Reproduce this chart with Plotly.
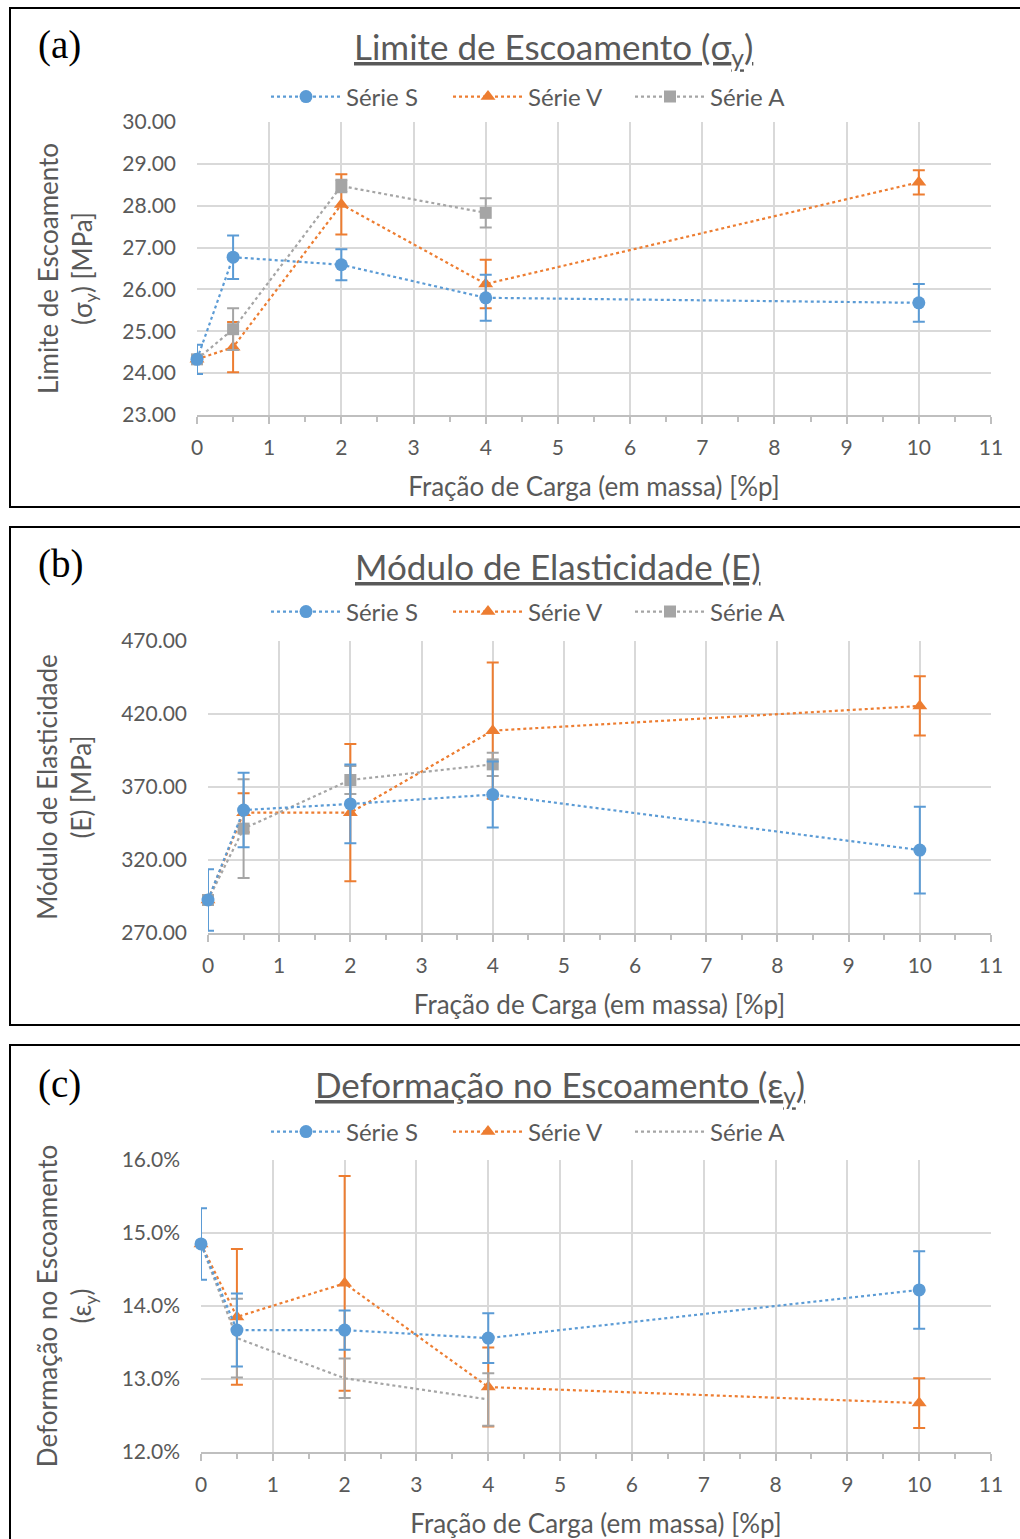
import plotly.graph_objects as go

# ---------------- data ----------------
x_vals = [0, 0.5, 2, 4, 10]
x_a = [0, 0.5, 2, 4]

# (a) Limite de Escoamento [MPa]
sy_S = [24.33, 26.77, 26.59, 25.80, 25.68]
sy_S_err = [0.35, 0.52, 0.37, 0.55, 0.45]
sy_V = [24.33, 24.62, 28.03, 26.13, 28.56]
sy_V_err = [0.0, 0.60, 0.72, 0.58, 0.29]
sy_A = [24.33, 25.05, 28.47, 27.83]
sy_A_err = [0.0, 0.50, 0.15, 0.35]

# (b) Modulo de Elasticidade [MPa]
E_S = [292.6, 354.2, 358.4, 364.8, 326.8]
E_S_err = [21.0, 25.5, 27.0, 22.6, 29.7]
E_V = [292.6, 352.4, 352.4, 408.6, 425.5]
E_V_err = [0.0, 13.4, 47.0, 46.7, 20.3]
E_A = [292.6, 341.5, 374.8, 385.5]
E_A_err = [0.0, 33.8, 9.6, 8.0]

# (c) Deformacao no Escoamento [%]
ey_S = [14.85, 13.67, 13.67, 13.56, 14.22]
ey_S_err = [0.49, 0.50, 0.27, 0.34, 0.53]
ey_V = [14.85, 13.85, 14.31, 12.89, 12.67]
ey_V_err = [0.0, 0.93, 1.47, 0.54, 0.34]
ey_A = [14.85, 13.56, 13.01, 12.72]
ey_A_err = [0.0, 0.54, 0.27, 0.36]

series_names = ["Série S", "Série V", "Série A"]
x_title = "Fração de Carga (em massa) [%p]"
titles = ["<u>Limite de Escoamento (σ<sub>y</sub>)</u>",
          "<u>Módulo de Elasticidade (E)</u>",
          "<u>Deformação no Escoamento (ε<sub>y</sub>)</u>"]
y_titles = ["Limite de Escoamento<br>(σ<sub>y</sub>) [MPa]",
            "Módulo de Elasticidade<br>(E) [MPa]",
            "Deformação no Escoamento<br>(ε<sub>y</sub>)"]
panel_labels = ["(a)", "(b)", "(c)"]

# ---------------- style ----------------
W, H = 1020, 1539
BLUE, ORANGE, GREY = "#5B9BD5", "#ED7D31", "#A5A5A5"
TXT = "#595959"
GRID = "#D9D9D9"
FONT = "Lato"

def px_x(p):
    return p / W

def px_y(p):
    return 1 - p / H

fig = go.Figure()

panels = [
    dict(data=[(sy_S, sy_S_err, x_vals), (sy_V, sy_V_err, x_vals), (sy_A, sy_A_err, x_a)],
         xdom=(197, 991), ydom=(122, 415), yr=(23, 30), dt=1, fmt=".2f", suffix="",
         title_y=48, title_x=553, leg_y=97, lab_y=45, a_markers=True),
    dict(data=[(E_S, E_S_err, x_vals), (E_V, E_V_err, x_vals), (E_A, E_A_err, x_a)],
         xdom=(208, 991), ydom=(641, 933), yr=(270, 470), dt=50, fmt=".2f", suffix="",
         title_y=566, title_x=558, leg_y=612, lab_y=564, a_markers=True),
    dict(data=[(ey_S, ey_S_err, x_vals), (ey_V, ey_V_err, x_vals), (ey_A, ey_A_err, x_a)],
         xdom=(201, 991), ydom=(1160, 1452), yr=(12, 16), dt=1, fmt=".1f", suffix="%",
         title_y=1086, title_x=560, leg_y=1132, lab_y=1084, a_markers=False),
]

colors = [BLUE, ORANGE, GREY]
symbols = ["circle", "triangle-up", "square"]
msizes = [13, 13, 12]

annotations = []
shapes = []
for i, p in enumerate(panels):
    n = "" if i == 0 else str(i + 1)
    xa, ya = "x" + n, "y" + n
    leg = "legend" + n
    # draw order V, A, S so S is on top; legend order S, V, A
    for k in [1, 2, 0]:
        yv, ye, xv = p["data"][k]
        show_marker = not (k == 2 and not p["a_markers"])
        fig.add_trace(go.Scatter(
            x=xv, y=yv, name=series_names[k], xaxis=xa, yaxis=ya, legend=leg,
            legendrank=k + 1,
            mode="lines+markers" if show_marker else "lines",
            line=dict(color=colors[k], width=2.2, dash="dot"),
            marker=dict(symbol=symbols[k], size=msizes[k], color=colors[k]),
            error_y=dict(type="data", array=ye, visible=True, color=colors[k],
                         thickness=2, width=6),
            cliponaxis=False,
        ))
    fig.layout["xaxis" + n] = dict(
        domain=[px_x(p["xdom"][0]), px_x(p["xdom"][1])], anchor=ya, automargin=False,
        range=[0, 11], dtick=1, tick0=0, showgrid=True, gridcolor=GRID, gridwidth=1.5,
        zeroline=False, showline=True, linecolor="#BFBFBF", linewidth=1.5,
        ticks="outside", ticklen=7, tickcolor="#BFBFBF", tickwidth=1.5,
        minor=dict(dtick=0.5, ticks="outside", ticklen=5, tickcolor="#BFBFBF", showgrid=False),
        ticklabelstandoff=6,
        tickfont=dict(family=FONT, size=21, color=TXT),
        title=dict(text=x_title, font=dict(family=FONT, size=26, color=TXT), standoff=20),
    )
    fig.layout["yaxis" + n] = dict(
        domain=[px_y(p["ydom"][1]), px_y(p["ydom"][0])], anchor=xa, automargin=False,
        range=list(p["yr"]), dtick=p["dt"], tick0=p["yr"][0],
        tickformat=p["fmt"], ticksuffix=p["suffix"],
        showgrid=True, gridcolor=GRID, gridwidth=1.5, zeroline=False, showline=False,
        ticklabelstandoff=20,
        tickfont=dict(family=FONT, size=21, color=TXT),
        title=dict(text=y_titles[i], font=dict(family=FONT, size=26, color=TXT), standoff=22),
    )
    fig.layout[leg] = dict(
        orientation="h", x=px_x(266), xanchor="left", y=px_y(p["leg_y"]), yanchor="middle",
        font=dict(family=FONT, size=24, color=TXT), bgcolor="rgba(0,0,0,0)",
        itemwidth=70, entrywidth=97, entrywidthmode="pixels", traceorder="normal",
    )
    annotations.append(dict(
        text=titles[i], x=px_x(p["title_x"]), y=px_y(p["title_y"]), xref="paper", yref="paper",
        xanchor="center", yanchor="middle", showarrow=False,
        font=dict(family=FONT, size=35, color=TXT)))
    annotations.append(dict(
        text=panel_labels[i], x=px_x(36), y=px_y(p["lab_y"]), xref="paper", yref="paper",
        xanchor="left", yanchor="middle", showarrow=False,
        font=dict(family="Liberation Serif", size=39, color="black")))

# panel borders
for top, bot in [(8, 507), (527, 1025), (1045, 1545)]:
    shapes.append(dict(type="rect", xref="paper", yref="paper",
                       x0=px_x(10), x1=px_x(1030), y0=px_y(bot), y1=px_y(top),
                       line=dict(color="black", width=2), fillcolor="rgba(0,0,0,0)"))

fig.update_layout(width=W, height=H,
                  margin=dict(l=0, r=0, t=0, b=0, pad=0, autoexpand=False),
                  plot_bgcolor="white", paper_bgcolor="white",
                  annotations=annotations, shapes=shapes, showlegend=True)

fig.write_html("out.html")
